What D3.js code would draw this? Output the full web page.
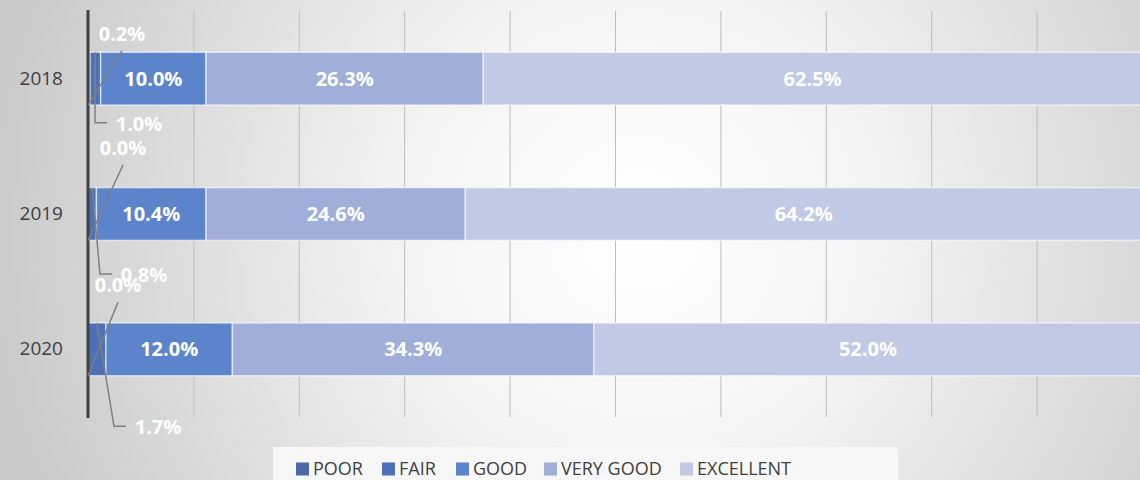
<!DOCTYPE html>
<html>
<head>
<meta charset="utf-8">
<script src="https://cdn.jsdelivr.net/npm/d3@7"></script>
<style>
  html, body { margin: 0; padding: 0; background: #fff; }
  svg { display: block; font-family: "Open Sans", sans-serif; }
</style>
</head>
<body>
<div id="chart"></div>
<script>
// ==== Data ====
const years = ["2018", "2019", "2020"];
const series = ["POOR", "FAIR", "GOOD", "VERY GOOD", "EXCELLENT"];
const poor      = [0.2, 0.0, 0.0];
const fair      = [1.0, 0.8, 1.7];
const good      = [10.0, 10.4, 12.0];
const veryGood  = [26.3, 24.6, 34.3];
const excellent = [62.5, 64.2, 52.0];
const xTicks = [0, 10, 20, 30, 40, 50, 60, 70, 80, 90, 100];

const colors = ["#4a68a6", "#4d71b8", "#5b84cb", "#9fafda", "#c1cae5"];

// small segments get their label outside with a leader line (offsets in px)
const leaders = [
  { year: "2018", s: 0, dx: 34, dy: -45, side: "top" },
  { year: "2019", s: 0, dx: 35, dy: -66, side: "top" },
  { year: "2020", s: 0, dx: 30, dy: -64, side: "top" },
  { year: "2018", s: 1, dx: 51, dy: 45, side: "bottom" },
  { year: "2019", s: 1, dx: 56, dy: 61, side: "bottom" },
  { year: "2020", s: 1, dx: 70, dy: 78, side: "bottom" }
];

const W = 1140, H = 480;
const margin = { top: 11, left: 88, bottom: 63 };
const plotH = H - margin.top - margin.bottom;

const svg = d3.select("#chart").append("svg")
    .attr("width", W)
    .attr("height", H);

// background
const defs = svg.append("defs");
const grad = defs.append("radialGradient")
    .attr("id", "bg")
    .attr("gradientUnits", "userSpaceOnUse")
    .attr("cx", 640).attr("cy", 230).attr("r", 660);
grad.append("stop").attr("offset", "0").attr("stop-color", "#ffffff");
grad.append("stop").attr("offset", "0.35").attr("stop-color", "#f4f4f4");
grad.append("stop").attr("offset", "1").attr("stop-color", "#c9c9c9");
svg.append("rect").attr("width", W).attr("height", H).attr("fill", "url(#bg)");

const x = d3.scaleLinear().domain([0, 100]).range([margin.left, margin.left + 1054]);
const y = d3.scaleBand().domain(years)
    .range([margin.top, margin.top + plotH])
    .paddingInner(0.61).paddingOuter(0.305);

// gridlines
svg.append("g")
    .attr("transform", `translate(0,${margin.top + plotH})`)
    .call(d3.axisBottom(x).tickValues(xTicks.slice(1)).tickSize(-plotH).tickFormat(""))
    .call(g => g.select(".domain").remove())
    .call(g => g.selectAll("line").attr("stroke", "#bdbdbd").attr("stroke-width", 1));

// stacked data
const rows = years.map((yr, i) => {
  const vals = [poor[i], fair[i], good[i], veryGood[i], excellent[i]];
  let acc = 0;
  return vals.map((v, s) => {
    const seg = { year: yr, s: s, v: v, x0: acc, x1: acc + v };
    acc += v;
    return seg;
  });
});
const segs = rows.flat();

svg.append("g").selectAll("rect")
    .data(segs)
    .enter()
    .append("rect")
    .attr("x", d => x(d.x0))
    .attr("y", d => y(d.year))
    .attr("width", d => x(d.x1) - x(d.x0))
    .attr("height", y.bandwidth())
    .attr("fill", d => colors[d.s])
    .attr("stroke", "rgba(255,255,255,0.6)")
    .attr("stroke-width", 1.5);

// y axis
svg.append("g")
    .attr("transform", `translate(${margin.left},0)`)
    .call(d3.axisLeft(y).tickSize(0).tickPadding(25))
    .call(g => g.select(".domain")
        .attr("d", `M0,${margin.top - 1}V${margin.top + plotH + 1}`)
        .attr("stroke", "#404040").attr("stroke-width", 3))
    .call(g => g.selectAll("text")
        .attr("fill", "#404040")
        .style("font-size", "19px")
        .style("font-family", "'Open Sans', sans-serif"));

// inside labels
svg.append("g").selectAll("text")
    .data(segs.filter(d => d.s >= 2))
    .enter()
    .append("text")
    .attr("x", d => (x(d.x0) + x(d.x1)) / 2)
    .attr("y", d => y(d.year) + y.bandwidth() / 2)
    .attr("dy", "0.35em")
    .attr("text-anchor", "middle")
    .attr("fill", "#ffffff")
    .style("font-size", "20px")
    .style("font-weight", "bold")
    .text(d => d.v.toFixed(1) + "%");

// outside labels with leader lines
const lead = svg.append("g");
leaders.forEach(l => {
  const d = segs.find(s => s.year === l.year && s.s === l.s);
  const top = y(l.year), bot = top + y.bandwidth();
  const cx = x(0) + l.dx, cy = top + y.bandwidth() / 2 + l.dy;
  let pts;
  if (l.side === "top") {
    pts = [[cx, cy + 17], [x(d.x0), bot]];
  } else {
    const mid = (x(d.x0) + x(d.x1)) / 2;
    const endX = cx - 23 - 9;
    pts = [[mid, top], [endX - 12, cy - 1], [endX, cy - 1]];
  }
  lead.append("path")
      .attr("d", d3.line()(pts))
      .attr("fill", "none")
      .attr("stroke", "#7f7f7f")
      .attr("stroke-width", 1.5);
  lead.append("text")
      .attr("x", cx)
      .attr("y", cy)
      .attr("dy", "0.35em")
      .attr("text-anchor", "middle")
      .attr("fill", "#ffffff")
      .style("font-size", "20px")
      .style("font-weight", "bold")
      .text(d.v.toFixed(1) + "%");
});

// legend
svg.append("rect")
    .attr("x", 273).attr("y", 447).attr("width", 625).attr("height", 40)
    .attr("fill", "#f7f7f7");
const legendX = [296, 382, 456, 544, 680];
const legend = svg.append("g").selectAll("g")
    .data(series)
    .enter()
    .append("g")
    .attr("transform", (d, i) => `translate(${legendX[i]},469)`);
legend.append("rect")
    .attr("x", 0).attr("y", -6.5)
    .attr("width", 13).attr("height", 13)
    .attr("fill", (d, i) => colors[i]);
legend.append("text")
    .attr("x", 17)
    .attr("dy", "0.36em")
    .attr("fill", "#404040")
    .style("font-size", "18px")
    .text(d => d);
</script>
</body>
</html>
